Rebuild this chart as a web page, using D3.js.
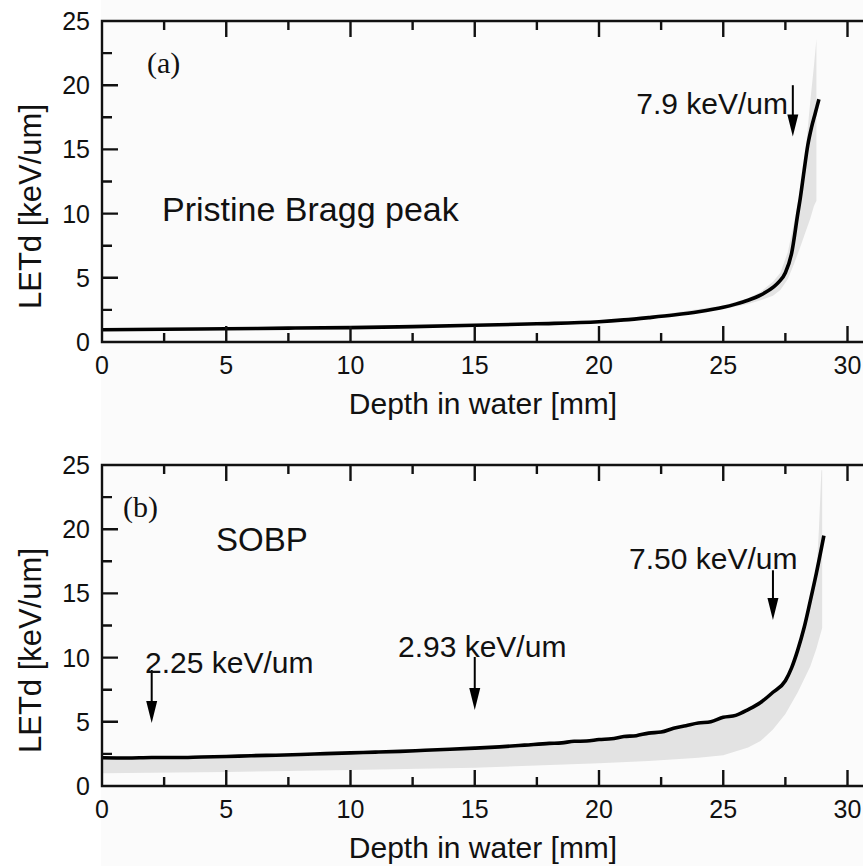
<!DOCTYPE html>
<html>
<head>
<meta charset="utf-8">
<script src="https://cdn.jsdelivr.net/npm/d3@7"></script>
<style>
  body { margin: 0; background: #fff; }
  svg { display: block; }
  text { font-family: "Liberation Sans", Arial, sans-serif; fill: #111; }
</style>
</head>
<body>
<div id="chart"></div>
<script>
// axis ticks
const xMajor = [0, 5, 10, 15, 20, 25, 30];
const xMinor = [2.5, 7.5, 12.5, 17.5, 22.5, 27.5, 32.5];
const yMajor = [0, 5, 10, 15, 20, 25];
const yMinor = [2.5, 7.5, 12.5, 17.5, 22.5];

// (a) pristine Bragg peak - LETd along depth
const braggDepth = [0, 2.5, 5, 7.5, 10, 12.5, 15, 17.5, 20, 21, 22, 23, 24, 25, 25.5, 26, 26.5, 27, 27.25, 27.5, 27.75, 28, 28.1, 28.25, 28.4, 28.55, 28.7, 28.85];
const braggLet = [0.95, 0.99, 1.03, 1.08, 1.12, 1.2, 1.3, 1.42, 1.58, 1.72, 1.9, 2.1, 2.35, 2.7, 2.95, 3.25, 3.65, 4.25, 4.7, 5.4, 6.9, 10.0, 11.2, 13.3, 15.3, 16.7, 17.8, 18.9];
// (a) uncertainty band
const braggBandDepth = [0, 5, 10, 15, 20, 22.5, 25, 26, 26.5, 27, 27.3, 27.6, 27.85, 28.1, 28.3, 28.5, 28.65, 28.75];
const braggBandLow = [0.9, 0.98, 1.08, 1.25, 1.5, 1.95, 2.55, 2.95, 3.25, 3.6, 4.05, 4.9, 6.1, 7.4, 8.5, 9.6, 10.6, 11.0];
const braggBandHigh = [1.0, 1.08, 1.17, 1.35, 1.65, 2.15, 2.85, 3.4, 3.9, 4.7, 5.4, 7.0, 9.3, 12.0, 14.6, 18.7, 21.5, 23.6];

// (b) SOBP
const sobpDepth = [0, 1, 2, 3, 4, 5, 6, 7, 8, 9, 10, 11, 12, 13, 14, 15, 16, 17, 18, 18.5, 19, 19.5, 20, 20.5, 21, 21.5, 22, 22.5, 23, 23.5, 24, 24.5, 25, 25.5, 26, 26.5, 27, 27.5, 27.75, 28, 28.25, 28.5, 28.75, 29.05];
const sobpLet = [2.2, 2.18, 2.22, 2.22, 2.26, 2.3, 2.36, 2.4, 2.45, 2.52, 2.58, 2.64, 2.7, 2.78, 2.86, 2.95, 3.05, 3.18, 3.32, 3.36, 3.48, 3.5, 3.62, 3.68, 3.85, 3.92, 4.12, 4.2, 4.5, 4.7, 4.9, 5.0, 5.35, 5.5, 5.95, 6.5, 7.3, 8.2, 9.2, 10.6, 12.3, 14.4, 16.6, 19.5];
const sobpBandDepth = [0, 5, 10, 15, 20, 22, 24, 25, 26, 26.5, 27, 27.5, 28, 28.5, 28.75, 28.85, 28.95, 28.98];
const sobpBandLow = [1.0, 1.1, 1.25, 1.42, 1.77, 1.95, 2.2, 2.4, 3.0, 3.5, 4.4, 5.6, 7.3, 9.3, 10.7, 11.4, 12.1, 12.3];
const sobpBandHigh = [2.15, 2.25, 2.5, 2.9, 3.55, 4.0, 4.75, 5.25, 5.85, 6.4, 7.2, 8.1, 10.5, 14.3, 16.6, 20.0, 24.6, 24.6];

// annotations: arrow depth, arrow top / tip values, label anchor (depth, value)
const braggNotes = [
  { text: "7.9 keV/um", depth: 27.8, from: 20.0, to: 16.0, lx: 21.5, ly: 17.76 }
];
const sobpNotes = [
  { text: "2.25 keV/um", depth: 2.0, from: 9.03, to: 4.9, lx: 1.73, ly: 8.8 },
  { text: "2.93 keV/um", depth: 15.0, from: 10.05, to: 5.92, lx: 11.91, ly: 10.05 },
  { text: "7.50 keV/um", depth: 27.0, from: 16.8, to: 12.93, lx: 21.21, ly: 16.9 }
];

const width = 863, height = 866;

const svg = d3
  .select("#chart")
  .append("svg")
  .attr("width", width)
  .attr("height", height);

// faint plot-area tone seen in the scan
svg
  .append("rect")
  .attr("x", 101)
  .attr("y", 0)
  .attr("width", width - 101)
  .attr("height", height)
  .attr("fill", "#fbfbfb");

const x = d3.scaleLinear().domain([0, 31]).range([102, 102 + 31 * 24.85]);

function renderPanel(opt) {
  const y = d3.scaleLinear().domain([0, 25]).range([opt.bottom, opt.bottom - 321]);
  const g = svg.append("g");

  // band
  const band = opt.bandDepth.map((d, i) => ({ d: d, lo: opt.bandLow[i], hi: opt.bandHigh[i] }));
  g.append("path")
    .datum(band)
    .attr("fill", "#e3e3e3")
    .attr("d", d3.area().x(d => x(d.d)).y0(d => y(d.lo)).y1(d => y(d.hi)));

  // LETd curve
  const line = opt.depth.map((d, i) => ({ d: d, v: opt.values[i] }));
  g.append("path")
    .datum(line)
    .attr("fill", "none")
    .attr("stroke", "#000")
    .attr("stroke-width", 3.6)
    .attr("stroke-linejoin", "round")
    .attr("d", d3.line().x(d => x(d.d)).y(d => y(d.v)).curve(d3.curveMonotoneX));

  // frame (bottom, top, left) and inward ticks as one path
  const y0 = y(0), y25 = y(25), x0 = x(0);
  const p = d3.path();
  p.moveTo(width + 5, y25);
  p.lineTo(x0, y25);
  p.lineTo(x0, y0);
  p.lineTo(width + 5, y0);
  xMajor.concat(xMinor).forEach(function(t) {
    const len = xMajor.includes(t) ? 16 : 9;
    p.moveTo(x(t), y0);
    p.lineTo(x(t), y0 - len);
    p.moveTo(x(t), y25);
    p.lineTo(x(t), y25 + len);
  });
  yMajor.concat(yMinor).forEach(function(t) {
    const len = yMajor.includes(t) ? 16 : 10;
    p.moveTo(x0, y(t));
    p.lineTo(x0 + len, y(t));
  });
  g.append("path")
    .attr("d", p.toString())
    .attr("fill", "none")
    .attr("stroke", "#111")
    .attr("stroke-width", 2.4);

  // tick labels
  g.selectAll(".xl")
    .data(xMajor)
    .enter()
    .append("text")
    .attr("x", d => x(d))
    .attr("y", y0 + 32)
    .attr("text-anchor", "middle")
    .style("font-size", "25px")
    .text(d => d);

  g.selectAll(".yl")
    .data(yMajor)
    .enter()
    .append("text")
    .attr("x", 90)
    .attr("y", d => y(d) + 9)
    .attr("text-anchor", "end")
    .style("font-size", "25px")
    .text(d => d);

  // axis titles
  g.append("text")
    .attr("x", 483)
    .attr("y", y0 + 72)
    .attr("text-anchor", "middle")
    .style("font-size", "30px")
    .text("Depth in water [mm]");

  g.append("text")
    .attr("transform", "translate(41," + ((y25 + y0) / 2 + 25) + ") rotate(-90)")
    .attr("text-anchor", "middle")
    .style("font-size", "31px")
    .text("LETd [keV/um]");

  // panel letter and title
  g.append("text")
    .attr("x", opt.letterX)
    .attr("y", y25 + 52)
    .style("font-family", "'Liberation Serif', 'Times New Roman', serif")
    .style("font-size", "30px")
    .text(opt.letter);

  g.append("text")
    .attr("x", opt.titleX)
    .attr("y", opt.titleY)
    .style("font-size", opt.titleSize)
    .text(opt.title);

  // arrows + labels
  opt.notes.forEach(function(n) {
    const ax = x(n.depth), ya = y(n.from), yb = y(n.to);
    g.append("path")
      .attr("d", "M" + ax + "," + ya + "V" + (yb - 18))
      .attr("stroke", "#000")
      .attr("stroke-width", 2);
    g.append("path")
      .attr("d", "M" + (ax - 5.5) + "," + (yb - 22) + "L" + (ax + 5.5) + "," + (yb - 22) + "L" + ax + "," + yb + "Z")
      .attr("fill", "#000");
    g.append("text")
      .attr("x", x(n.lx))
      .attr("y", y(n.ly))
      .style("font-size", "30px")
      .text(n.text);
  });
}

renderPanel({
  bottom: 342,
  depth: braggDepth, values: braggLet,
  bandDepth: braggBandDepth, bandLow: braggBandLow, bandHigh: braggBandHigh,
  notes: braggNotes,
  letter: "(a)", letterX: 147,
  title: "Pristine Bragg peak", titleX: 162, titleY: 221, titleSize: "34px"
});

renderPanel({
  bottom: 786,
  depth: sobpDepth, values: sobpLet,
  bandDepth: sobpBandDepth, bandLow: sobpBandLow, bandHigh: sobpBandHigh,
  notes: sobpNotes,
  letter: "(b)", letterX: 123,
  title: "SOBP", titleX: 216, titleY: 551, titleSize: "33px"
});
</script>
</body>
</html>
